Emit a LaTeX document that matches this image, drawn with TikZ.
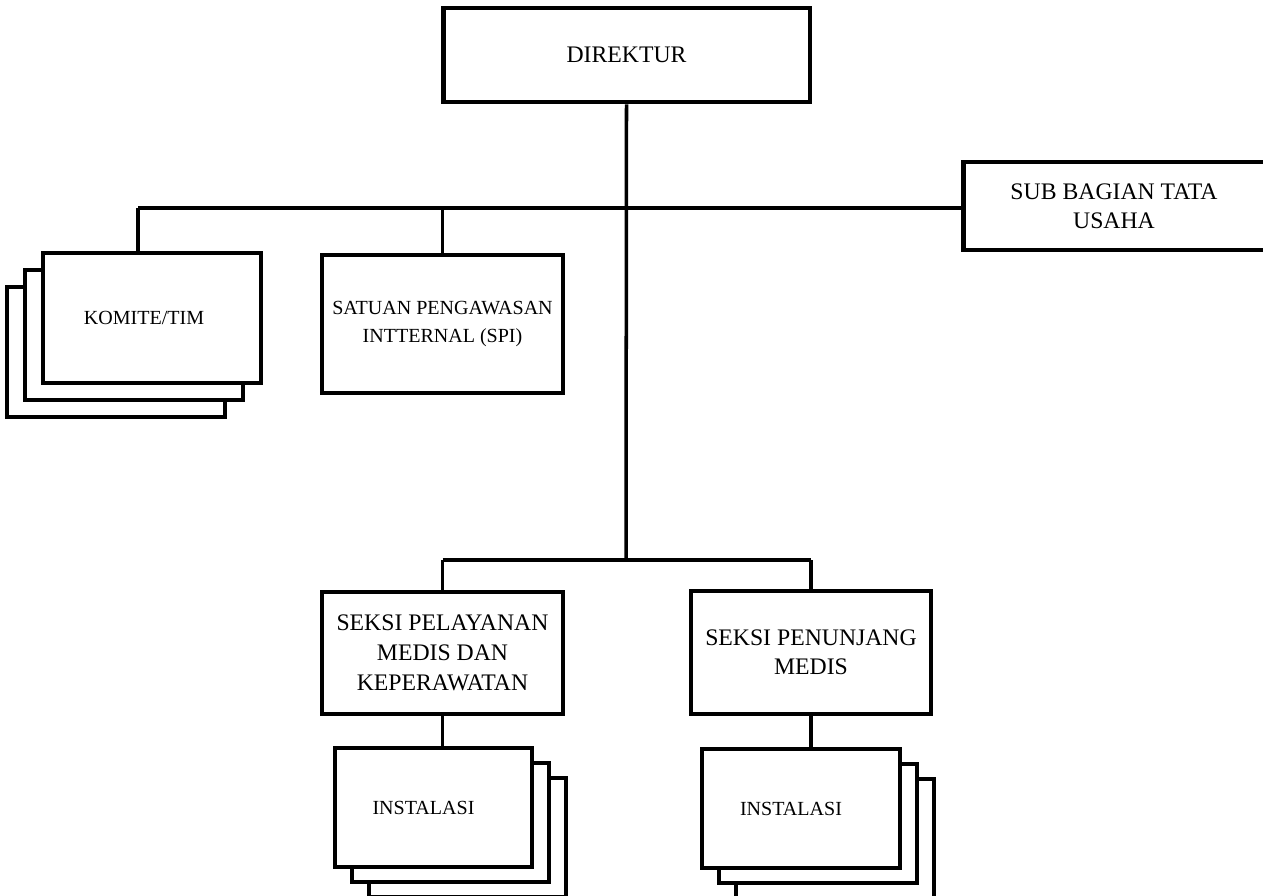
\documentclass[tikz,border=0pt]{standalone}
\usepackage{fontspec}
\setmainfont{Liberation Serif}

\begin{document}
\begin{tikzpicture}[x=0.02cm, y=-0.02cm,
  box/.style={draw, line width=2.8pt, fill=white, align=center, inner sep=0pt,
    font=\fontsize{13.5}{16.5}\selectfont},
  smallbox/.style={box, font=\fontsize{11.4}{15.4}\selectfont},
  stackbox/.style={draw, line width=2pt, fill=white, align=center, inner sep=0pt,
    font=\fontsize{11.4}{15.4}\selectfont},
  link/.style={line width=2pt}]
  \useasboundingbox (0,0) rectangle (1263,895);

  \node[box, minimum width=7.34cm, minimum height=1.88cm] (direktur) at (626.5,55) {DIREKTUR};
  \node[box, minimum width=6.04cm, minimum height=1.76cm] (subbag) at (1114,206) {SUB BAGIAN TATA\\USAHA};

  % komite bertumpuk
  \foreach \d in {2,1}
    \node[stackbox, minimum width=4.36cm, minimum height=2.6cm] at ({152-18*\d},{318+17*\d}) {};
  \node[stackbox, minimum width=4.36cm, minimum height=2.6cm] (komite) at (152,318) {KOMITE/TIM\hspace*{0.32cm}};

  \node[smallbox, minimum width=4.82cm, minimum height=2.76cm] (spi) at (442.5,324) {SATUAN PENGAWASAN\\INTTERNAL (SPI)};

  \node[box, minimum width=4.82cm, minimum height=2.44cm, font=\fontsize{13.5}{17.2}\selectfont] (pelayanan) at (442.5,653) {SEKSI PELAYANAN\\MEDIS DAN\\KEPERAWATAN};
  \node[box, minimum width=4.8cm, minimum height=2.46cm] (penunjang) at (811,652.5) {SEKSI PENUNJANG\\MEDIS};

  % instalasi bertumpuk
  \foreach \d in {2,1} {
    \node[stackbox, minimum width=3.94cm, minimum height=2.38cm] at ({433.5+17*\d},{807.5+15*\d}) {};
    \node[stackbox, minimum width=3.96cm, minimum height=2.38cm] at ({801+17*\d},{808.5+15*\d}) {};
  }
  \node[stackbox, minimum width=3.94cm, minimum height=2.38cm] (inst1) at (433.5,807.5) {INSTALASI\hspace*{0.4cm}};
  \node[stackbox, minimum width=3.96cm, minimum height=2.38cm] (inst2) at (801,808.5) {INSTALASI\hspace*{0.4cm}};

  % garis penghubung
  \coordinate (kt) at (138,208);
  \coordinate (bawah) at (626,560);
  \draw[link] (direktur.south) -- (bawah);
  \draw[link] (kt) -- (subbag.west |- kt);
  \draw[link] (kt) -- (kt |- komite.north);
  \draw[link] (spi.north |- kt) -- (spi.north);
  \draw[link] (pelayanan.north |- bawah) -- (penunjang.north |- bawah);
  \draw[link] (pelayanan.north |- bawah) -- (pelayanan.north);
  \draw[link] (penunjang.north |- bawah) -- (penunjang.north);
  \draw[link] (pelayanan.south) -- (pelayanan.south |- inst1.north);
  \draw[link] (penunjang.south) -- (penunjang.south |- inst2.north);
\end{tikzpicture}
\end{document}
